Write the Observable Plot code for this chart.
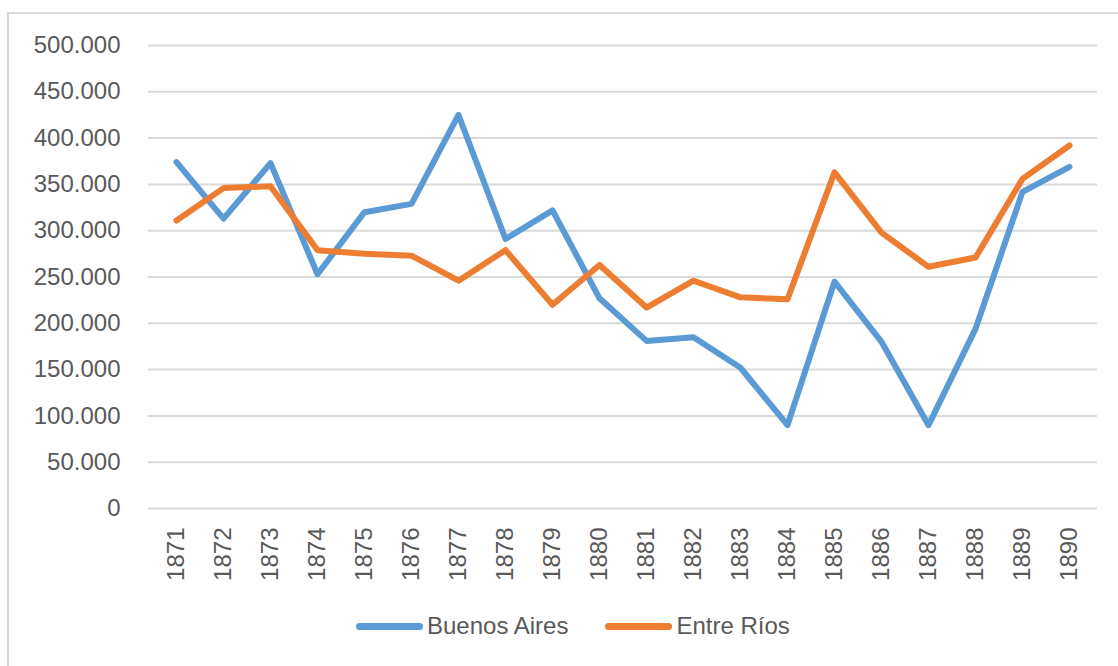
<!DOCTYPE html>
<html>
<head>
<meta charset="utf-8">
<script src="https://cdn.jsdelivr.net/npm/d3@7"></script>
<script src="https://cdn.jsdelivr.net/npm/@observablehq/plot@0.6"></script>
<style>
  html, body { margin: 0; padding: 0; background: #fff; }
  #frame {
    position: absolute; left: 7px; top: 12px; width: 1111px; height: 654px;
    border-top: 2px solid #d9d9d9; border-left: 2px solid #d9d9d9;
  }
  #chart { position: absolute; left: 0; top: 0; }
  #legend {
    position: absolute; left: 356px; top: 612px; display: flex; align-items: center;
    font-family: "Liberation Sans", Arial, sans-serif; font-size: 24px; color: #595959;
  }
  .item { display: flex; align-items: center; margin-right: 37px; }
  .sw { width: 67px; height: 7px; border-radius: 4px; margin-right: 4px; }
</style>
</head>
<body>
<div id="frame"></div>
<div id="chart"></div>
<div id="legend"></div>
<script>
const years = [1871,1872,1873,1874,1875,1876,1877,1878,1879,1880,1881,1882,1883,1884,1885,1886,1887,1888,1889,1890];
const buenosAires = [374000,313000,373000,253000,320000,329000,425000,291000,322000,227000,181000,185000,152000,90000,245000,180000,90000,194000,342000,369000];
const entreRios = [311000,346000,348000,279000,275000,273000,246000,279000,220000,263000,217000,246000,228000,226000,363000,298000,261000,271000,356000,392000];
const seriesNames = ["Buenos Aires", "Entre Ríos"];
const seriesColors = ["#5B9BD5", "#ED7D31"];
const yTicks = [0,50000,100000,150000,200000,250000,300000,350000,400000,450000,500000];

const data = [];
years.forEach((y, i) => data.push({year: String(y), value: buenosAires[i], series: seriesNames[0]}));
years.forEach((y, i) => data.push({year: String(y), value: entreRios[i], series: seriesNames[1]}));

const fmt = d => d === 0 ? "0" : d3.format(",")(d).replace(/,/g, ".");

const chart = Plot.plot({
  width: 1118,
  height: 592,
  marginTop: 45,
  marginBottom: 84,
  marginLeft: 148,
  marginRight: 21,
  style: {fontFamily: "'Liberation Sans', Arial, sans-serif", fontSize: "24px", color: "#595959", background: "transparent"},
  x: {type: "point", domain: years.map(String), padding: 0.5, label: null},
  y: {domain: [0, 500000], label: null},
  color: {domain: seriesNames, range: seriesColors},
  marks: [
    Plot.gridY(yTicks, {stroke: "#d9d9d9", strokeOpacity: 1, strokeWidth: 2}),
    Plot.axisY(yTicks, {tickSize: 0, tickPadding: 28, tickFormat: fmt, label: null, fill: "#595959"}),
    Plot.axisX({tickSize: 0, tickPadding: 19, tickRotate: -90, label: null, fill: "#595959"}),
    Plot.line(data, {x: "year", y: "value", z: "series", stroke: "series", strokeWidth: 6, strokeLinejoin: "round", strokeLinecap: "round"})
  ]
});
document.getElementById("chart").appendChild(chart);

const legend = document.getElementById("legend");
seriesNames.forEach((name, i) => {
  const item = document.createElement("div");
  item.className = "item";
  const sw = document.createElement("div");
  sw.className = "sw";
  sw.style.background = seriesColors[i];
  const label = document.createElement("span");
  label.textContent = name;
  item.appendChild(sw);
  item.appendChild(label);
  legend.appendChild(item);
});
</script>
</body>
</html>
